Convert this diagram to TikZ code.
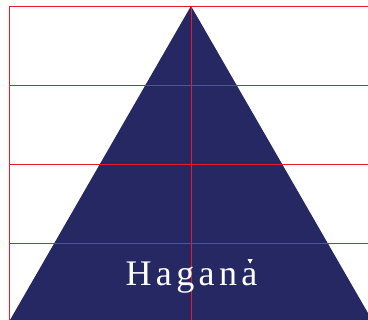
\documentclass[tikz,border=0pt]{standalone}
\usepackage{fontspec}
\setmainfont{Liberation Serif}
\definecolor{navy}{RGB}{38,40,100}
\definecolor{gridred}{RGB}{226,30,46}
\newcommand{\trackgap}{\hspace{4.4pt}}
\newcommand{\triacc}[1]{\leavevmode\rlap{\hspace{0.17em}\raisebox{0.62em}{\tikz\fill[white] (0,0) -- (5pt,0) -- (2.5pt,-4.5pt) -- cycle;}}#1}
\begin{document}
\begin{tikzpicture}[x=1pt,y=-1pt,
  gridline/.style={draw=gridred,line width=1.4pt},
  label/.style={text=white,font=\fontsize{36pt}{40pt}\selectfont,anchor=base,inner sep=0pt}]
\useasboundingbox (0,0) rectangle (368,320);
\fill[navy] (191,6) -- (10,320) -- (372,320) -- cycle;
\coordinate (tl) at (9.5,6.5);
\coordinate (bl) at (9.5,320);
\coordinate (tc) at (191.5,6.5);
\coordinate (bc) at (191.5,320);
\foreach \yy in {6.5,85.5,164.5,243.5} {
  \draw[gridline] (9.5,\yy) -- (368,\yy);
}
\draw[gridline] (tl) -- (bl);
\draw[gridline] (tc) -- (bc);
\node[label] (name) at (191.5,286) {H\trackgap a\trackgap g\trackgap a\trackgap n\trackgap \triacc{a}};
\end{tikzpicture}
\end{document}
